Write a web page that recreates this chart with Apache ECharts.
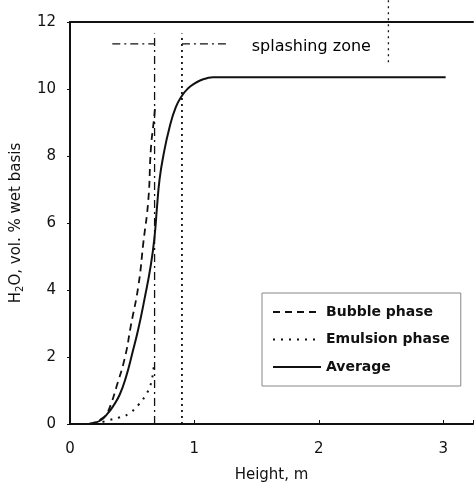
<!DOCTYPE html>
<html><head><meta charset="utf-8">
<script src="https://cdn.jsdelivr.net/npm/echarts@6/dist/echarts.min.js"></script>
<style>html,body{margin:0;padding:0;background:#fff}#c{width:476px;height:488px}</style>
</head><body><div id="c"></div>
<script>
// Height, m  /  H2O vol.% wet basis
const averageX = [0.15,0.2,0.25,0.3,0.35,0.4,0.45,0.5,0.55,0.6,0.65,0.68,0.7,0.72,0.75,0.8,0.85,0.9,0.95,1.0,1.05,1.1,1.15,3.02];
const averageY = [0,0.04,0.12,0.3,0.55,0.88,1.4,2.1,2.85,3.75,4.75,5.6,6.5,7.3,8.0,8.85,9.45,9.8,10.02,10.16,10.26,10.32,10.35,10.35];
const bubbleX = [0.15,0.2,0.25,0.29,0.33,0.37,0.44,0.49,0.55,0.59,0.63,0.65,0.675,0.685];
const bubbleY = [0,0.05,0.15,0.28,0.6,1.07,1.96,2.95,4.13,5.42,6.7,8.2,9.1,9.5];
const emulsionX = [0.2,0.32,0.4,0.47,0.55,0.61,0.64,0.66,0.675];
const emulsionY = [0,0.12,0.2,0.3,0.57,0.87,1.1,1.35,1.8];
// splashing-zone markers
const zoneLeftX = [0.68,0.68];   const zoneLeftY = [0,11.66];
const zoneRightX = [0.9,0.9];    const zoneRightY = [0,11.66];
const topMarkX = [2.56,2.56];    const topMarkY = [10.8,12.65];
const arrowLeftX = [0.34,0.68];  const arrowLeftY = [11.35,11.35];
const arrowRightX = [0.9,1.28];  const arrowRightY = [11.35,11.35];
const zoneLabel = 'splashing zone';
const zoneLabelPos = [1.94, 11.25];
const xTicks = [0,1,2,3];
const yTicks = [0,2,4,6,8,10,12];
const seriesNames = ['Bubble phase','Emulsion phase','Average'];

const zip = (a,b) => a.map((v,i)=>[v,b[i]]);
const FONT = 'DejaVu Sans';
const INK = '#111';

function guide(x,y,type,w){
  return {type:'line', data:zip(x,y), symbol:'none', silent:true, clip:false,
    lineStyle:{color:INK,width:w,type:type}, z:1};
}

const chart = echarts.init(document.getElementById('c'), null, {renderer:'canvas'});
chart.setOption({
  animation:false,
  backgroundColor:'#fff',
  grid:{left:70, top:22, right:0, bottom:62, show:false},
  xAxis:[{type:'value', min:0, max:3.24, interval:1,
    name:'Height, m', nameLocation:'middle', nameGap:44,
    nameTextStyle:{fontFamily:FONT, fontSize:15, color:INK},
    axisLine:{show:true, lineStyle:{color:INK,width:2}},
    axisTick:{show:true, inside:true, length:4, lineStyle:{color:INK}},
    splitLine:{show:false},
    axisLabel:{fontFamily:FONT, fontSize:15, color:INK, margin:18,
      formatter:v => xTicks.includes(v) ? String(v) : ''}},
    {type:'value', position:'top', min:0, max:3.24, interval:1,
    axisLine:{show:true, onZero:false, lineStyle:{color:INK,width:2}},
    axisTick:{show:false}, axisLabel:{show:false}, splitLine:{show:false}}],
  yAxis:{type:'value', min:0, max:12, interval:2,
    name:'H{s|2}O, vol. % wet basis', nameLocation:'middle', nameGap:45,
    nameTextStyle:{fontFamily:FONT, fontSize:15, color:INK,
      rich:{s:{fontFamily:FONT, fontSize:10, color:INK, verticalAlign:'bottom', padding:[8,0,0,0]}}},
    axisLine:{show:true, lineStyle:{color:INK,width:2}},
    axisTick:{show:true, length:3, lineStyle:{color:INK}},
    splitLine:{show:false},
    axisLabel:{fontFamily:FONT, fontSize:15, color:INK, margin:14,
      formatter:v => yTicks.includes(v) ? String(v) : ''}},
  legend:{data:seriesNames, orient:'vertical', left:262, top:293,
    itemWidth:48, itemHeight:14, itemGap:13.5, padding:[12,11,12,10],
    borderColor:'#888', borderWidth:1, backgroundColor:'#fff',
    itemStyle:{opacity:0},
    textStyle:{fontFamily:FONT, fontSize:14, fontWeight:'bold', color:INK}},
  series:[
    guide(zoneLeftX, zoneLeftY, [8,4,2,4], 1.3),
    guide(zoneRightX, zoneRightY, [2,4], 1.8),
    guide(topMarkX, topMarkY, [2,4], 1.3),
    guide(arrowLeftX, arrowLeftY, [8,4,2,4], 1.3),
    guide(arrowRightX, arrowRightY, [8,4,2,4], 1.3),
    {type:'scatter', data:[zoneLabelPos], symbolSize:0, silent:true,
      itemStyle:{color:INK, opacity:1},
      label:{show:true, position:'inside', formatter:zoneLabel, opacity:1,
        fontFamily:FONT, fontSize:16, color:'#000'}},
    {name:seriesNames[0], type:'line', data:zip(bubbleX,bubbleY), symbol:'none',
      smooth:true, lineStyle:{color:INK, width:1.8, type:[7,5]},
      itemStyle:{color:INK}, z:3},
    {name:seriesNames[1], type:'line', data:zip(emulsionX,emulsionY), symbol:'none',
      smooth:true, lineStyle:{color:INK, width:2, type:[2,6]},
      itemStyle:{color:INK}, z:3},
    {name:seriesNames[2], type:'line', data:zip(averageX,averageY), symbol:'none',
      smooth:true, lineStyle:{color:INK, width:2, type:'solid'},
      itemStyle:{color:INK}, z:4}
  ]
});
</script></body></html>
